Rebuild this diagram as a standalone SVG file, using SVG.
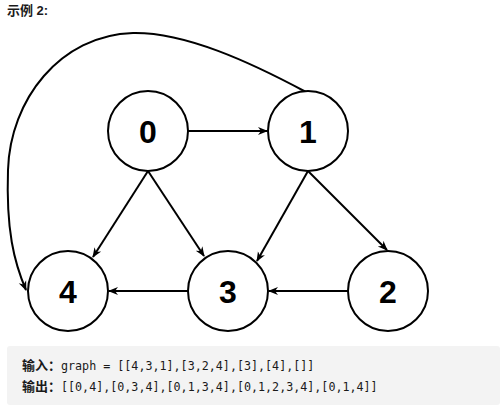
<svg xmlns="http://www.w3.org/2000/svg" width="500" height="412" viewBox="0 0 500 412">
<style>
.node circle{fill:#fff;stroke:#000;stroke-width:2}
.node text{font-family:"Liberation Sans",Arial,sans-serif;font-weight:bold;font-size:32px;text-anchor:middle;fill:#000}
.edge{fill:none;stroke:#000;stroke-width:2}
.lbl{font-family:"Liberation Sans","Noto Sans CJK SC",sans-serif;font-weight:bold;font-size:13px;fill:#1a1a1a}
.code{font-family:"DejaVu Sans Mono","Liberation Mono",monospace;font-size:11.7px;fill:#1a1a1a}
</style>
<defs>
<marker id="arr" viewBox="0 0 10 10" refX="9" refY="5" markerWidth="10" markerHeight="10" markerUnits="userSpaceOnUse" orient="auto">
<path d="M0,1 L10,5 L0,9 L3,5 Z" fill="#000"/>
</marker>
</defs>
<rect width="500" height="412" fill="#fff"/>
<text class="lbl" x="7" y="15">示例 2:</text>
<g id="edges">
<path class="edge" d="M188,131 L267,131" marker-end="url(#arr)"/>
<path class="edge" d="M148,171 L93,257" marker-end="url(#arr)"/>
<path class="edge" d="M148,171 L204,256" marker-end="url(#arr)"/>
<path class="edge" d="M308,171 L257,261" marker-end="url(#arr)"/>
<path class="edge" d="M308,171 L387,250" marker-end="url(#arr)"/>
<path class="edge" d="M348,291 L269,291" marker-end="url(#arr)"/>
<path class="edge" d="M188,291 L109,291" marker-end="url(#arr)"/>
<path class="edge" d="M306,92 C250,62 185,32 133,33 C60,35 10,100 8,170 C6,230 14,262 26,290" marker-end="url(#arr)"/>
</g>
<g id="node0" class="node"><circle cx="148" cy="131" r="40"/><text x="148" y="143">0</text></g>
<g id="node1" class="node"><circle cx="308" cy="131" r="40"/><text x="308" y="143">1</text></g>
<g id="node2" class="node"><circle cx="388" cy="291" r="40"/><text x="388" y="303">2</text></g>
<g id="node3" class="node"><circle cx="228" cy="291" r="40"/><text x="228" y="303">3</text></g>
<g id="node4" class="node"><circle cx="68" cy="291" r="40"/><text x="68" y="303">4</text></g>
<rect x="7" y="346" width="493" height="59" rx="3" fill="#f3f3f3"/>
<text class="lbl" x="22" y="370">输入：</text>
<text class="code" x="61" y="370">graph = [[4,3,1],[3,2,4],[3],[4],[]]</text>
<text class="lbl" x="22" y="391">输出：</text>
<text class="code" x="61" y="391">[[0,4],[0,3,4],[0,1,3,4],[0,1,2,3,4],[0,1,4]]</text>
</svg>
